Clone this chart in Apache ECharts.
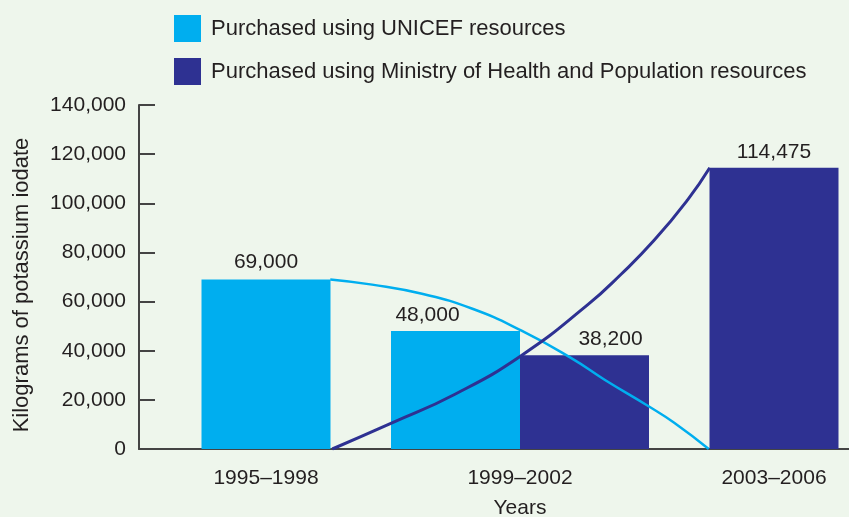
<!DOCTYPE html>
<html>
<head>
<meta charset="utf-8">
<script src="https://cdn.jsdelivr.net/npm/echarts@6/dist/echarts.min.js"></script>
<style>
html,body{margin:0;padding:0;background:#eef6ec;overflow:hidden;}
#c{width:849px;height:517px;}
</style>
</head>
<body>
<div id="c"></div>
<script>
const categories = ['1995–1998', '1999–2002', '2003–2006'];
const unicefValues = [69000, 48000, null];
const ministryValues = [null, 38200, 114475];
const yTicks = [0, 20000, 40000, 60000, 80000, 100000, 120000, 140000];
// trend curves, x in category units (0 = first category centre)
const unicefTrendX = [0.253, 0.418, 0.614, 0.810, 1.006, 1.202, 1.333, 1.503, 1.607, 1.743];
const unicefTrendY = [69000, 66900, 63170, 57170, 48180, 37000, 28200, 17610, 10700, 0];
const ministryTrendX = [0.261, 0.496, 0.744, 1.006, 1.267, 1.398, 1.528, 1.660, 1.747];
const ministryTrendY = [0, 10610, 22290, 38100, 58740, 71130, 84910, 101420, 114475];

const nameU = 'Purchased using UNICEF resources';
const nameM = 'Purchased using Ministry of Health and Population resources';
const cU = '#00aeef', cM = '#2e3192', txt = '#231f20';
const font = 'Liberation Sans, Arial, sans-serif';
const fmt = v => Number(v).toLocaleString('en-US');

const paired = categories.map((c, i) => unicefValues[i] != null && ministryValues[i] != null);
const soloU = unicefValues.map((v, i) => paired[i] ? null : v);
const soloM = ministryValues.map((v, i) => paired[i] ? null : v);
const pairU = unicefValues.map((v, i) => paired[i] ? v : null);
const pairM = ministryValues.map((v, i) => paired[i] ? v : null);

const lbl = (extra) => Object.assign({
  show: true, position: 'top', distance: 5, color: txt, fontSize: 21, fontFamily: font,
  formatter: p => fmt(p.value)
}, extra || {});

const chart = echarts.init(document.getElementById('c'), null, {renderer: 'canvas'});
chart.setOption({
  backgroundColor: '#eef6ec',
  animation: false,
  legend: {
    orient: 'vertical', left: 174, top: 15, padding: 0, itemWidth: 27, itemHeight: 27, itemGap: 16,
    icon: 'rect', data: [nameU, nameM],
    textStyle: {color: txt, fontSize: 22, fontFamily: font, padding: [0, 0, 0, 5]}
  },
  grid: {left: 139, width: 762, top: 105, bottom: 68, containLabel: false, outerBoundsMode: 'none'},
  xAxis: [
    {type: 'category', data: categories, boundaryGap: true,
     axisLine: {onZero: false, lineStyle: {color: '#444', width: 2}}, axisTick: {show: false},
     axisLabel: {color: txt, fontSize: 21, fontFamily: font, margin: 19},
     name: 'Years', nameLocation: 'middle', nameGap: 49,
     nameTextStyle: {color: txt, fontSize: 21, fontFamily: font, padding: [0, 0, 0, 0]}},
    {type: 'category', data: categories, show: false},
    {type: 'value', min: -0.5, max: 2.5, show: false}
  ],
  yAxis: {
    type: 'value', min: 0, max: 140000, interval: 20000,
    axisLine: {show: true, onZero: false, lineStyle: {color: '#444', width: 2}},
    axisTick: {show: true, inside: true, length: 16, lineStyle: {color: '#444', width: 2}},
    splitLine: {show: false},
    axisLabel: {color: txt, fontSize: 21, fontFamily: font, margin: 13, formatter: v => fmt(v)},
    name: 'Kilograms of potassium iodate', nameLocation: 'middle', nameGap: 106,
    nameTextStyle: {color: txt, fontSize: 22, fontFamily: font, padding: [0, 0, 0, -16]}
  },
  series: [
    {name: nameU, type: 'bar', xAxisIndex: 0, data: soloU, barWidth: 129, barGap: '-100%',
     itemStyle: {color: cU}, label: lbl({distance: 7})},
    {name: nameM, type: 'bar', xAxisIndex: 0, data: soloM, barWidth: 129, barGap: '-100%',
     itemStyle: {color: cM}, label: lbl()},
    {name: nameU, type: 'bar', xAxisIndex: 1, data: pairU, barWidth: 129, barGap: '0%',
     itemStyle: {color: cU}, label: lbl({offset: [-28, 0]})},
    {name: nameM, type: 'bar', xAxisIndex: 1, data: pairM, barWidth: 129, barGap: '0%',
     itemStyle: {color: cM}, label: lbl({offset: [26, 0]})},
    {name: 'unicefTrend', type: 'line', xAxisIndex: 2, smooth: 0.5, symbol: 'none', z: 5,
     lineStyle: {color: cU, width: 2.5},
     data: unicefTrendX.map((x, i) => [x, unicefTrendY[i]])},
    {name: 'ministryTrend', type: 'line', xAxisIndex: 2, smooth: 0.5, symbol: 'none', z: 5,
     lineStyle: {color: cM, width: 3},
     data: ministryTrendX.map((x, i) => [x, ministryTrendY[i]])}
  ]
});
</script>
</body>
</html>
